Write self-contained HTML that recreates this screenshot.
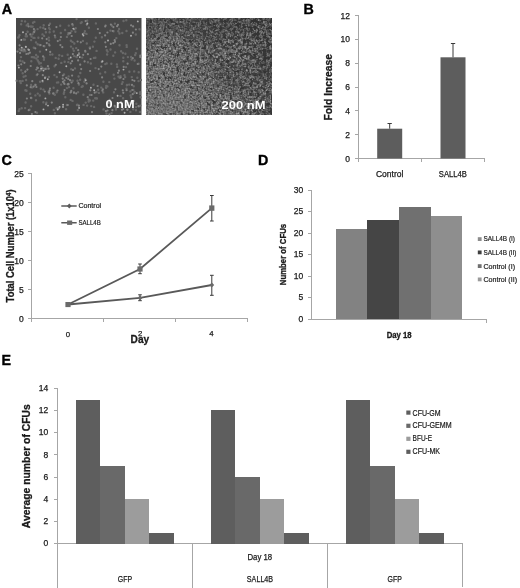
<!DOCTYPE html>
<html lang="en">
<head>
<meta charset="utf-8">
<title>Figure</title>
<style>
html,body{margin:0;padding:0;background:#fff;}
body{width:520px;height:588px;overflow:hidden;}
svg{display:block;}
text{font-family:"Liberation Sans",Arial,sans-serif;fill:#1a1a1a;}
.pl{font-weight:bold;font-size:14.3px;fill:#000;stroke:#000;stroke-width:0.35px;}
.tk{font-size:8.5px;stroke:#1a1a1a;stroke-width:0.25px;}
.lg{font-size:7.5px;stroke:#1a1a1a;stroke-width:0.2px;}
.b{font-weight:bold;}
.bs{stroke:#1a1a1a;stroke-width:0.3px;}
.ax{stroke:#a6a6a6;stroke-width:1;fill:none;shape-rendering:crispEdges;}
.eb{stroke:#3a3a3a;stroke-width:1;fill:none;}
</style>
</head>
<body>
<svg width="520" height="588" viewBox="0 0 520 588">
<defs>
<filter id="fR" x="0" y="0" width="100%" height="100%" color-interpolation-filters="sRGB">
  <feTurbulence type="fractalNoise" baseFrequency="0.6" numOctaves="1" seed="3" result="n"/>
  <feColorMatrix in="n" type="matrix" values="0.75 0 0 0 0.075  0.75 0 0 0 0.075  0.75 0 0 0 0.075  0 0 0 0 1" result="fine"/>
  <feTurbulence type="fractalNoise" baseFrequency="0.3" numOctaves="2" seed="21" result="m"/>
  <feColorMatrix in="m" type="matrix" values="0 0 0 0 0.21  0 0 0 0 0.21  0 0 0 0 0.21  -8 0 0 0 3.3" result="gaps"/>
  <feMerge><feMergeNode in="fine"/><feMergeNode in="gaps"/></feMerge>
  <feGaussianBlur stdDeviation="0.45"/>
</filter>
<filter id="fG" x="0" y="0" width="100%" height="100%" color-interpolation-filters="sRGB">
  <feTurbulence type="fractalNoise" baseFrequency="0.3" numOctaves="2" seed="5" result="m"/>
  <feColorMatrix in="m" type="matrix" values="0 0 0 0 0.2  0 0 0 0 0.2  0 0 0 0 0.2  -7 0 0 0 3.75"/>
  <feGaussianBlur stdDeviation="0.5"/>
</filter>
<linearGradient id="gD" gradientUnits="userSpaceOnUse" x1="160" y1="115" x2="255" y2="25">
  <stop offset="0" stop-color="#000"/><stop offset="0.3" stop-color="#1a1a1a"/><stop offset="0.62" stop-color="#aaa"/><stop offset="1" stop-color="#fff"/>
</linearGradient>
<mask id="mD" maskUnits="userSpaceOnUse" x="146" y="18" width="126" height="97">
  <rect x="146" y="18" width="126" height="97" fill="url(#gD)"/>
  <g filter="url(#bl)">
  <ellipse cx="268" cy="112" rx="12" ry="8" fill="#fff"/>
  <ellipse cx="150" cy="30" rx="10" ry="14" fill="#999"/>
  </g>
</mask>
<filter id="bs" x="0" y="0" width="520" height="588" filterUnits="userSpaceOnUse"><feGaussianBlur stdDeviation="0.7"/></filter>
<filter id="bl" x="-50%" y="-50%" width="200%" height="200%"><feGaussianBlur stdDeviation="7"/></filter>
<clipPath id="cR"><rect x="146" y="18" width="126" height="97"/></clipPath>
</defs>
<rect width="520" height="588" fill="#fff"/>

<!-- Panel A -->
<g id="panelA">
<text class="pl" x="1.8" y="13.6">A</text>
<rect x="16" y="18" width="125.5" height="97" fill="#484848"/>
<!--DOTS-->
<g filter="url(#bs)" stroke-linecap="round" fill="none">
<path stroke="#696969" stroke-width="2.4" d="M64 74.5h0M26.1 80h0M126.4 88.6h0M64.1 92.3h0M26.5 90.8h0M34.4 21.9h0M30.2 93.7h0M77 105h0M139.9 111.9h0M120.6 76.2h0M57 82.6h0M49.8 29.3h0M134.6 60.5h0M76.2 48.1h0M21.1 24.2h0M119.1 28.9h0M56.7 92.3h0M72.8 25.2h0M25.1 108.1h0M54.8 94.8h0M71 46.6h0M49.4 93.6h0M139.5 29.2h0M126.5 31h0M101.9 37.3h0M110.5 49.5h0M96.6 98.2h0M129.4 71.8h0M36 100.3h0M44.1 57.8h0M64.7 61.7h0M68.6 76.4h0M116 109.6h0M110.5 105.1h0M116.2 107.7h0M83.4 94.7h0M78.6 76.5h0M68.8 25.6h0M43.4 102.2h0M96.9 98.5h0M33.6 32.4h0M89.9 94.9h0M77.8 110.1h0M19.8 81.2h0M86.5 33.9h0M37.8 60.5h0M125.2 77.1h0M41.2 70h0M123.3 61.2h0M81.7 22.2h0M95.2 98.2h0M134.7 91.9h0M18.7 111h0M41.3 66.6h0M18.9 36.8h0M127.5 109.5h0M96.6 50.9h0M19.5 35.1h0M126.3 20.3h0M119.6 77.7h0M73.4 88.2h0M80.1 79.8h0M140.1 94.1h0M40.4 27.4h0M32.6 26.6h0M49.6 32.3h0M31.8 57.1h0M18.2 37.5h0M130.4 111.9h0M35.3 84.8h0M120.5 95.9h0M44.7 69h0M84.9 31.1h0M119.5 45.3h0M28 24h0M74 92.2h0M65.1 30h0M60.2 25.7h0M38.7 62h0M66.9 36.9h0M25.7 36.3h0M81.9 86.7h0M71 91.9h0M66.9 105h0M103.2 92.4h0M66.9 88.1h0M122.6 82.2h0M140.3 105.6h0M122.3 33h0M106.1 87.8h0M31.1 40.1h0M111.6 113.1h0M106.5 113.5h0M40.8 88.8h0M39.7 45.1h0M140.9 79.9h0M25.6 76h0M21.7 108.2h0M29.6 109.7h0M43.7 25.3h0M90 47.5h0M42.7 81.6h0M40.1 81.7h0M95.4 57.7h0M22.6 48.6h0M20.5 81.3h0M46.6 68.8h0M106.7 63.4h0M118.5 76.6h0M16.7 80.8h0M60.8 33h0M70.9 40.7h0M137.3 77.8h0M118.3 31.3h0M78.9 84.5h0M114.4 78.6h0M110.4 30.6h0M39.8 45h0M130.4 91.4h0M130.6 102.9h0M131.2 97.5h0M87.9 62.2h0M85.1 79.2h0M43.4 89.6h0M74.3 43.5h0M22.7 73.2h0M26.7 25.4h0M31 26.5h0M131.6 59.5h0M36 42.4h0M42.5 34.4h0M53.5 93.2h0M78.1 92.1h0M79 84.5h0M129.2 84.6h0M94.4 41.6h0M33 22.7h0M55.7 57.9h0M62.2 55.9h0M100.2 73.6h0M126.6 45.3h0M88.7 101.6h0M75 68.4h0M85.4 51.8h0M54.9 113.3h0M69 87.1h0M83.6 104.9h0M40 51.6h0M95.5 68.1h0M115.3 107.1h0M81.7 86.9h0M68.9 58.8h0M59.9 40h0M126 67.1h0M95.9 23.4h0M121.9 83.9h0M131.8 77.1h0M55.2 37.2h0M103.4 81.8h0M44.1 35.9h0M121.1 51.2h0M134.2 71.4h0M76.8 57.1h0M98.9 92.9h0M22.6 80.9h0M54.4 75.1h0M114.9 23.6h0M128 102.8h0M72.5 41.9h0M48.9 44.2h0M91.2 106.1h0M80.8 23.1h0M38.4 37.8h0M34.7 30.5h0M103.5 109.4h0M75.4 31.8h0M35.4 95.4h0M136.1 107.1h0M137 48.7h0M36.4 58.5h0M61.1 84.6h0M59.3 55.3h0M31.3 61.2h0M105.3 64.1h0M70.7 99.9h0M116.3 38.1h0M52.4 54.5h0M37.9 56.7h0M26.9 36.3h0M66.1 109.2h0M106.8 50.2h0M27.6 31.7h0M58.2 82.4h0M98.2 89.8h0M126.7 46.9h0M93.5 84.7h0M33.5 37.9h0M65.3 97.3h0M131.1 57h0M133.7 86.3h0M43.9 59.8h0M34.3 57.5h0M119.6 77.3h0M135.8 34.5h0M32.2 87.4h0M93.2 100.6h0M87.2 20.6h0M113.5 31.2h0M37.6 29.1h0M61.3 62.9h0M73.8 50.8h0M136 110.3h0M140.5 97.3h0M31.4 98h0M113.3 55.8h0M39.3 71.1h0M88.6 99.4h0M122.3 105.9h0M96.4 92h0M85.7 102.6h0M84.4 33h0M133.3 89.9h0M20.8 83.1h0M86.8 43.5h0M23.6 76.7h0M25.4 90.3h0M123.3 57.7h0M95.8 37.8h0M77.3 104.7h0M25.6 102.5h0M21.2 70.2h0M105.2 72.3h0M46.4 102.7h0M75.7 28.2h0M84.4 81.7h0M125.4 53.8h0M88.9 27.8h0M87.1 105.6h0M82.7 86.2h0M56.5 108.1h0M89.7 47.7h0M21.8 21h0M54.6 66.3h0M138.6 63.8h0M36.8 75.1h0M140.1 92.3h0M107.6 51.6h0M82.9 40.9h0M138.5 81.1h0M67.7 54.7h0M68.1 34.4h0M31.1 85h0M23.2 50.2h0M106.3 85.9h0M32.9 57.1h0M77.5 80.8h0M71.3 69.2h0M33.8 47.7h0M130.6 95.5h0M136.3 103.8h0M122.9 53h0M94.1 106.9h0M133.2 109.3h0M107.4 86.4h0M53.8 109.9h0M37.8 93.6h0M32.6 34.1h0M39.8 95.5h0M48.8 37.6h0M22.6 61.5h0M56.8 77h0M117.2 66.9h0M123.5 21h0M107.1 54.5h0M45.9 32.2h0M25 39.6h0M114 92.2h0M109.7 102.8h0M49 40.4h0M73 48.6h0M126.9 85.2h0M48.5 91.8h0M113.7 74.8h0M90 100.5h0M20.2 60.7h0M101.3 87.6h0M92.9 46.7h0M25.3 51.2h0M36.1 55h0M21 57.1h0M23.3 51.3h0M124.5 75.3h0M74.1 56.1h0M63.8 93.8h0M76.3 56.8h0M111.3 63.8h0M72.7 80.8h0M45.3 77h0M82.2 57.6h0M80.3 73h0M43.3 28h0M115.1 52.4h0M72.5 100.9h0M31.5 36.5h0M58.6 58.7h0M23.7 39.5h0M123.1 98.3h0M71.5 31.1h0M34.5 37.9h0M37 112.7h0M44.4 46.3h0M76.6 19.1h0M109.3 82.1h0M135.1 55h0M53.8 31.5h0M133.8 100.9h0M40.9 63.1h0M138.7 72.3h0M19.6 49.3h0M116.9 64.4h0M68.3 33.2h0M31.1 106.2h0M50.1 54.6h0M53.6 87.8h0M25.1 21.4h0M50 23.7h0M39.3 63.5h0M135.8 53.2h0M134.3 92.8h0M93.9 57.9h0M90.8 63.5h0M48.9 76.9h0M37.6 44.3h0M19.4 109.3h0M68.3 62.1h0M112 25.7h0M127 85h0M49.1 28.1h0M127.9 57.1h0M119.5 33.5h0"/>
<path stroke="#828282" stroke-width="2.2" d="M115.4 89.3h0M46 104.3h0M28.7 110.2h0M54.8 35.5h0M120.6 77.5h0M78.2 50.2h0M60.4 45.1h0M56.4 27.1h0M46.8 43.1h0M33.7 86.6h0M47.9 66.2h0M28.6 26.4h0M35.5 85.1h0M76.2 93.4h0M58 108.6h0M118 24.8h0M90.3 90.3h0M90.6 59h0M26.1 34h0M123.5 79h0M70.6 92.5h0M70.7 63.3h0M78.9 54.4h0M37.2 67.7h0M72.1 75.6h0M132.9 32.7h0M107.5 110.5h0M140.2 57h0M31.9 114h0M33.9 29.1h0M109.4 114.3h0M105.3 42.3h0M73 70h0M40.6 45.1h0M25.2 71.8h0M77.6 41.5h0M123.3 92.8h0M105.2 26.5h0M17.5 51.6h0M43.6 46h0M83.2 54.8h0M132.7 94.2h0M70 80.2h0M118.9 70.7h0M122 109.8h0M42.2 38.3h0M37.5 74.3h0M84.6 61.4h0M60.9 37h0M102.8 89.4h0M112.4 110.2h0M86.6 83.4h0M24.4 49.7h0M51.8 102.6h0M74.1 29.3h0M64.6 90.1h0M72.3 24.2h0M49.1 92.3h0M85.2 50.9h0M49.5 45.4h0M72.1 61.2h0M90.1 71h0M36.4 87h0M55.8 64.8h0M99.8 33.1h0M112.7 31h0M92 112.1h0M140.6 56.3h0M97.6 86h0M24.4 62.8h0M62.7 78.6h0M118 72.8h0M114.7 105.9h0M137.7 64h0M70.4 33.1h0M27.4 69.6h0M42.6 68.4h0M113.4 27.1h0M86.8 24.6h0M120.9 102.1h0M21.4 50.4h0M66.3 77.8h0M112.5 98h0M35.4 112.1h0M30.9 97.8h0M64.5 80.4h0M37.9 67.9h0M36.4 69.5h0M127.3 109.8h0M78.9 105.7h0M64.5 84h0M71.7 36h0M123.7 66.9h0M85.6 21.1h0M26.9 98.5h0M20.1 52.9h0M81.2 69.1h0M62.9 75.5h0M35.3 48.3h0M62.3 47.2h0M90 48.6h0M110.8 43.9h0M42.8 75.2h0M134.4 80.8h0M123.2 109h0M67.8 105h0M70.3 80.3h0M126.6 90.2h0M132.4 80h0M68.2 79h0M68.5 83.9h0M131.1 25.3h0M71.3 90.9h0M78.4 83.2h0M63.9 83.1h0M97.9 29h0M28.2 49.4h0M49.6 90.4h0M127.6 63.7h0M78.1 60.4h0M80.2 64.7h0M117.1 26.2h0M91.6 95h0M101.8 61.9h0M74 92.8h0M45.3 29.1h0M28.3 53.7h0M105.6 25.7h0M62.9 81.8h0M138.5 106.2h0M122.8 90.3h0M101.3 66.6h0M25.9 47h0M57.5 90.5h0M71.6 82.5h0M138.8 106.5h0M94.7 92.7h0M132 84.9h0M114.7 40.2h0M29.9 52.7h0M105.9 111.2h0M49 25.3h0M79 53.3h0M21.2 64.3h0M87.7 97.2h0M113.3 43.2h0M32.3 81.2h0M50 88.5h0M25.5 71.3h0M132.3 90h0M98.7 69.1h0M30.7 87.2h0M107.4 32.5h0M105.9 46.8h0M26.8 85.4h0M132.1 103.3h0M109.5 99.9h0M127.2 105.2h0M30.7 66h0M132.1 101.3h0M18.5 65.5h0M102.1 77.4h0M133.1 26.4h0M50.2 51.9h0M80.8 42.3h0M115 41.8h0M26.4 54h0M43.1 56.4h0M45.4 68.9h0M105.1 35.4h0M30.3 34.4h0M132.8 58.2h0M68.5 84.4h0M57.8 41.1h0M48.7 68.7h0M53.2 93.6h0M34.2 31.9h0M19.6 45.3h0M46.7 39.1h0M108.4 102.8h0M140.3 55.6h0M135.9 29.5h0M44.8 91.5h0M87.9 54.2h0M69.3 33.4h0M102.4 90.7h0M58.9 108.3h0M67.6 84.3h0M110.9 24.6h0M72.9 54.1h0"/>
<path stroke="#b0b0b0" stroke-width="1.9" d="M108 40.5h0M59.6 72.3h0M79.8 57.1h0M66.3 66.3h0M87.4 23.5h0M63.1 104.7h0M43.5 109.4h0M45.4 98.4h0M48 105.6h0M47.8 79.3h0M63 106.9h0M79.1 107.9h0M102.5 61.3h0M23 32.2h0M117.6 95.7h0M59.6 106.9h0M18.9 67.6h0M43.5 70.6h0M124.6 112.7h0M83.4 35.5h0M73.3 28.6h0M41.1 68.6h0M70.7 57.5h0M21.3 39.9h0M77.7 55.3h0M137.8 21.4h0M45 78h0M21.7 47.6h0M82.7 34.1h0M29 49.9h0M131 35.7h0M136.8 93.1h0M90.9 87.7h0M57.7 109.6h0M46.3 49.8h0M25.8 46.8h0M123.5 69.6h0M94.2 90.3h0M42.5 80.8h0M85.7 80.2h0"/>
</g>
<!--/DOTS-->
<text class="b" x="105.5" y="108" font-size="11.5px" style="fill:#fff" textLength="29" lengthAdjust="spacingAndGlyphs">0 nM</text>
<rect x="146" y="18" width="126" height="97" fill="#6e6e6e"/>
<rect x="146" y="18" width="126" height="97" filter="url(#fR)"/>
<rect x="146" y="18" width="126" height="97" filter="url(#fG)" mask="url(#mD)"/>
<g clip-path="url(#cR)" opacity="0.32"><g filter="url(#bl)">
  <ellipse cx="205" cy="20" rx="80" ry="13" fill="#303030"/>
  <ellipse cx="215" cy="34" rx="35" ry="7" fill="#303030"/>
  <ellipse cx="266" cy="60" rx="12" ry="24" fill="#303030"/>
  <ellipse cx="266" cy="112" rx="14" ry="8" fill="#303030"/>
  <ellipse cx="146" cy="40" rx="5" ry="24" fill="#303030"/>
  <ellipse cx="232" cy="78" rx="26" ry="7" fill="#303030" transform="rotate(28 232 78)"/>
</g></g>
<g clip-path="url(#cR)" opacity="0.3"><ellipse cx="168" cy="106" rx="30" ry="14" fill="#7c7c7c" filter="url(#bl)"/></g>
<text class="b" x="221.5" y="109" font-size="11.5px" style="fill:#fff" textLength="44" lengthAdjust="spacingAndGlyphs">200 nM</text>
</g>

<!-- Panel B -->
<g id="panelB">
<text class="pl" x="303.5" y="13.5">B</text>
<path class="ax" d="M358.5 15V162 M358 158.5H484.5 M355 15.5h3.5 M355 39.5h3.5 M355 63.5h3.5 M355 87.5h3.5 M355 110.5h3.5 M355 134.5h3.5 M355 158.5h3.5 M421.5 158.5v3.5 M484.5 158.5v3.5"/>
<g class="tk" text-anchor="end">
<text x="350" y="18.5">12</text><text x="350" y="42.4">10</text><text x="350" y="66.2">8</text><text x="350" y="90.1">6</text><text x="350" y="114">4</text><text x="350" y="137.8">2</text><text x="350" y="161.7">0</text>
</g>
<rect x="377.2" y="128.7" width="25" height="29.8" fill="#5d5d5d"/>
<rect x="440.5" y="57.3" width="25" height="101.2" fill="#5d5d5d"/>
<path class="eb" d="M389.7 128.7V123.5 M387.5 123.5h4.3 M453 57.3V43.5 M450.9 43.5h4.3"/>
<text class="tk" x="389.7" y="176.7" text-anchor="middle">Control</text>
<text class="tk" x="452.8" y="176.7" text-anchor="middle" textLength="28" lengthAdjust="spacingAndGlyphs">SALL4B</text>
<text class="b bs" font-size="11px" transform="translate(331.5 120.5) rotate(-90)" textLength="66.5" lengthAdjust="spacingAndGlyphs">Fold Increase</text>
</g>

<!-- Panel C -->
<g id="panelC">
<text class="pl" x="1.5" y="165">C</text>
<path class="ax" d="M31.5 173V321.5 M31 318.5H247.5 M28 173.5h3.5 M28 202.5h3.5 M28 231.5h3.5 M28 260.5h3.5 M28 289.5h3.5 M28 318.5h3.5 M103.5 318.5v3 M175.5 318.5v3 M247.5 318.5v3"/>
<g class="tk" text-anchor="end">
<text x="23.7" y="176.7">25</text><text x="23.7" y="205.7">20</text><text x="23.7" y="234.7">15</text><text x="23.7" y="263.7">10</text><text x="23.7" y="292.7">5</text><text x="23.7" y="321.6">0</text>
</g>
<text class="b bs" font-size="10px" transform="translate(14.1 302.4) rotate(-90)" textLength="113" lengthAdjust="spacingAndGlyphs">Total Cell Number (1x10<tspan font-size="6.5px" dy="-3.4">4</tspan><tspan dy="3.4">)</tspan></text>
<path d="M68 304.5L140 297.9L211.8 285" stroke="#595959" stroke-width="1.8" fill="none"/>
<path d="M68 304.5L140 269L211.8 208.1" stroke="#595959" stroke-width="1.8" fill="none"/>
<path class="eb" d="M140 264V273.7 M138.2 264h3.6 M138.2 273.7h3.6 M211.8 195.5V221 M210 195.5h3.7 M210 221h3.7 M140 294.8V300.7 M138.2 294.8h3.6 M138.2 300.7h3.6 M211.8 275.3V295.3 M210 275.3h3.7 M210 295.3h3.7"/>
<g fill="#6a6a6a">
<rect x="65.4" y="302" width="5.2" height="5.1"/><rect x="137.4" y="266.4" width="5.2" height="5.2"/><rect x="209.2" y="205.4" width="5.2" height="5.4"/>
<path d="M140 295.3l2.4 2.6l-2.4 2.6l-2.4-2.6z M211.8 282.4l2.4 2.6l-2.4 2.6l-2.4-2.6z"/>
</g>
<path d="M61.3 206H76.7 M61.3 222.7H76.7" stroke="#595959" stroke-width="1.4"/>
<path d="M69.3 203.6l2.3 2.4l-2.3 2.4l-2.3-2.4z" fill="#5a5a5a"/><rect x="67.1" y="220.5" width="5.1" height="4.4" fill="#6a6a6a"/>
<g class="lg" font-size="7px">
<text x="78.4" y="208.4" textLength="22.8" lengthAdjust="spacingAndGlyphs">Control</text>
<text x="78.4" y="225.4" textLength="22.4" lengthAdjust="spacingAndGlyphs">SALL4B</text>
</g>
<g class="tk" text-anchor="middle" style="font-size:7.8px"><text x="67.9" y="336.6">0</text><text x="140.2" y="336.4">2</text><text x="211.3" y="336.4">4</text></g>
<text class="b bs" x="130.6" y="342.9" font-size="11px" textLength="18.6" lengthAdjust="spacingAndGlyphs">Day</text>
</g>

<!-- Panel D -->
<g id="panelD">
<text class="pl" x="258" y="165">D</text>
<path class="ax" d="M311.5 190V319.5H486.5 M308 190.5h3.5 M308 211.5h3.5 M308 233.5h3.5 M308 254.5h3.5 M308 276.5h3.5 M308 297.5h3.5 M308 319.5h3.5 M486.5 319.5v3"/>
<g class="tk" text-anchor="end">
<text x="303.3" y="193">30</text><text x="303.3" y="214.4">25</text><text x="303.3" y="235.9">20</text><text x="303.3" y="257.3">15</text><text x="303.3" y="278.7">10</text><text x="303.3" y="300.2">5</text><text x="303.3" y="321.6">0</text>
</g>
<g shape-rendering="crispEdges">
<rect x="336" y="228.7" width="31" height="90.3" fill="#828282"/>
<rect x="367" y="220.3" width="32" height="98.7" fill="#454545"/>
<rect x="399" y="207.3" width="31.5" height="111.7" fill="#707070"/>
<rect x="430.5" y="216" width="31.5" height="103" fill="#8e8e8e"/>
</g>
<text class="b bs" font-size="9px" transform="translate(286.2 285.2) rotate(-90)" textLength="61.4" lengthAdjust="spacingAndGlyphs">Number of CFUs</text>
<text class="b bs" x="386.7" y="338" font-size="9px" textLength="25" lengthAdjust="spacingAndGlyphs">Day 18</text>
<rect x="477.8" y="237.2" width="3.8" height="3.8" fill="#8c8c8c"/><rect x="477.8" y="250.5" width="3.8" height="3.8" fill="#404040"/><rect x="477.8" y="264.2" width="3.8" height="3.8" fill="#707070"/><rect x="477.8" y="277.5" width="3.8" height="3.8" fill="#9a9a9a"/>
<g class="lg" font-size="7px">
<text x="483.5" y="241" textLength="31.5" lengthAdjust="spacingAndGlyphs">SALL4B (I)</text>
<text x="483.5" y="254.5" textLength="33" lengthAdjust="spacingAndGlyphs">SALL4B (II)</text>
<text x="483.5" y="268.5" textLength="31.5" lengthAdjust="spacingAndGlyphs">Control (I)</text>
<text x="483.5" y="282.2" textLength="33.5" lengthAdjust="spacingAndGlyphs">Control (II)</text>
</g>
</g>

<!-- Panel E -->
<g id="panelE">
<text class="pl" x="1.5" y="364.5">E</text>
<path class="ax" d="M57.5 388V588 M57.5 543.5H462.5V587 M192.5 543.5V588 M327.5 543.5V588 M54 388.5h3.5 M54 410.5h3.5 M54 432.5h3.5 M54 454.5h3.5 M54 477.5h3.5 M54 499.5h3.5 M54 521.5h3.5 M54 543.5h3.5"/>
<g class="tk" text-anchor="end">
<text x="48.3" y="391">14</text><text x="48.3" y="413.2">12</text><text x="48.3" y="435.4">10</text><text x="48.3" y="457.6">8</text><text x="48.3" y="479.8">6</text><text x="48.3" y="502">4</text><text x="48.3" y="524.2">2</text><text x="48.3" y="546.4">0</text>
</g>
<text class="b bs" font-size="10.4px" transform="translate(30.2 528.2) rotate(-90)" textLength="124" lengthAdjust="spacingAndGlyphs">Average number of CFUs</text>
<g shape-rendering="crispEdges">
<rect x="76" y="399.5" width="24" height="144" fill="#5e5e5e"/><rect x="100" y="465.8" width="25" height="77.7" fill="#696969"/><rect x="125" y="499.1" width="24" height="44.4" fill="#9c9c9c"/><rect x="149" y="533" width="25" height="10.5" fill="#5e5e5e"/>
<rect x="211" y="410.3" width="24" height="133.2" fill="#5e5e5e"/><rect x="235" y="476.9" width="25" height="66.6" fill="#696969"/><rect x="260" y="499.1" width="24" height="44.4" fill="#9c9c9c"/><rect x="284" y="533" width="25" height="10.5" fill="#5e5e5e"/>
<rect x="346" y="399.5" width="24" height="144" fill="#5e5e5e"/><rect x="370" y="465.8" width="25" height="77.7" fill="#696969"/><rect x="395" y="499.1" width="24" height="44.4" fill="#9c9c9c"/><rect x="419" y="533" width="25" height="10.5" fill="#5e5e5e"/>
</g>
<g class="tk" text-anchor="middle">
<text x="125" y="582" textLength="14.3" lengthAdjust="spacingAndGlyphs">GFP</text><text x="260" y="582" textLength="26.3" lengthAdjust="spacingAndGlyphs">SALL4B</text><text x="394.7" y="582" textLength="14.3" lengthAdjust="spacingAndGlyphs">GFP</text><text x="259.8" y="560.2" textLength="24.6" lengthAdjust="spacingAndGlyphs">Day 18</text>
</g>
<rect x="406.3" y="410.5" width="4.2" height="4.2" fill="#5e5e5e"/><rect x="406.3" y="423.7" width="4.2" height="4.2" fill="#696969"/><rect x="406.3" y="436.7" width="4.2" height="4.2" fill="#9c9c9c"/><rect x="406.3" y="449.7" width="4.2" height="4.2" fill="#5e5e5e"/>
<g class="lg" style="font-size:8.3px">
<text x="412.6" y="415.6" textLength="28" lengthAdjust="spacingAndGlyphs">CFU-GM</text>
<text x="412.6" y="428.4" textLength="39" lengthAdjust="spacingAndGlyphs">CFU-GEMM</text>
<text x="412.6" y="441.2" textLength="19.5" lengthAdjust="spacingAndGlyphs">BFU-E</text>
<text x="412.6" y="454.2" textLength="27.5" lengthAdjust="spacingAndGlyphs">CFU-MK</text>
</g>
</g>
</svg>
</body>
</html>
